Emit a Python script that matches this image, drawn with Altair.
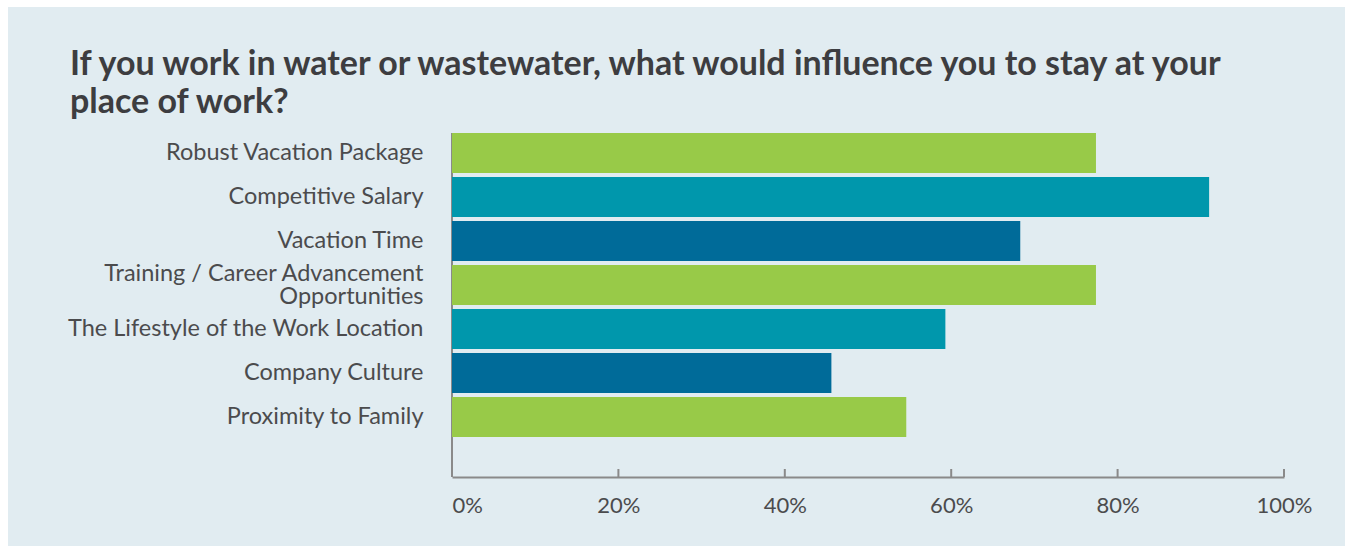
import altair as alt
import pandas as pd

categories = [
    "Robust Vacation Package",
    "Competitive Salary",
    "Vacation Time",
    "Training / Career Advancement|Opportunities",
    "The Lifestyle of the Work Location",
    "Company Culture",
    "Proximity to Family",
]
values = [77.4, 91.0, 68.3, 77.4, 59.3, 45.6, 54.6]
color_groups = ["g", "t", "b", "g", "t", "b", "g"]
palette_domain = ["g", "t", "b"]
palette_range = ["#98ca48", "#0097ac", "#006b99"]
tick_values = [0, 20, 40, 60, 80, 100]

title_lines = [
    "If you work in water or wastewater, what would influence you to stay at your",
    "place of work?",
]

df = pd.DataFrame({"cat": categories, "val": values, "grp": color_groups})
df_ticks = pd.DataFrame({"t": tick_values})

W, H = 832, 304
AXIS_GRAY = "#8a8a8a"
LABEL_COLOR = "#4b4b4d"
PANEL = "#e1ecf1"
xscale = alt.Scale(domain=[0, 100], nice=False, zero=True)

bars = alt.Chart(df).mark_bar().encode(
    x=alt.X(
        "val:Q",
        scale=xscale,
        axis=alt.Axis(
            values=tick_values,
            labelExpr="datum.value + '%'",
            grid=False,
            ticks=False,
            domainColor=AXIS_GRAY,
            domainWidth=2,
            offset=40,
            labelFont="Lato",
            labelFontSize=22,
            labelColor=LABEL_COLOR,
            labelPadding=18,
            labelFlush=False,
            labelAlign=alt.expr("datum.value == 0 ? 'left' : 'center'"),
            title=None,
            zindex=1,
        ),
    ),
    y=alt.Y(
        "cat:N",
        sort=categories,
        scale=alt.Scale(paddingInner=4 / 44, paddingOuter=0),
        axis=alt.Axis(
            domain=False,
            ticks=False,
            labelFont="Lato",
            labelFontSize=23.5,
            labelColor=LABEL_COLOR,
            labelPadding=29,
            labelExpr="split(datum.label, '|')",
            labelLineHeight=23,
            labelOffset=alt.expr("indexof(datum.value, '|') >= 0 ? -11.5 : 0"),
            labelLimit=500,
            title=None,
            zindex=1,
        ),
    ),
    color=alt.Color(
        "grp:N",
        scale=alt.Scale(domain=palette_domain, range=palette_range),
        legend=None,
    ),
)

panel = alt.Chart(df_ticks).transform_filter("datum.t == 0").mark_rect(
    color=PANEL
).encode(
    x=alt.value(-444), x2=alt.value(893), y=alt.value(-126), y2=alt.value(413)
)

vline = alt.Chart(df_ticks).transform_filter("datum.t == 0").mark_rule(
    color=AXIS_GRAY, strokeWidth=2
).encode(x=alt.X("t:Q", scale=xscale), y=alt.value(0), y2=alt.value(H + 40))

ticks = alt.Chart(df_ticks).mark_rule(color=AXIS_GRAY, strokeWidth=2).encode(
    x=alt.X("t:Q", scale=xscale), y=alt.value(H + 40 - 8), y2=alt.value(H + 40)
)

chart = alt.layer(panel, vline, ticks, bars).properties(
    width=W,
    height=H,
    autosize=alt.AutoSizeParams(type="none"),
    padding={"left": 452, "top": 133, "right": 69, "bottom": 116},
    background="white",
    title=alt.Title(
        text=title_lines,
        anchor="start",
        frame="group",
        font="Lato",
        fontSize=34,
        fontWeight="bold",
        color="#3d3d40",
        lineHeight=38,
        dx=-382,
        dy=113,
        offset=0,
        zindex=1,
    ),
).configure_view(stroke=None)

chart.save("out.html", embed_options={"renderer": "svg", "actions": False})
